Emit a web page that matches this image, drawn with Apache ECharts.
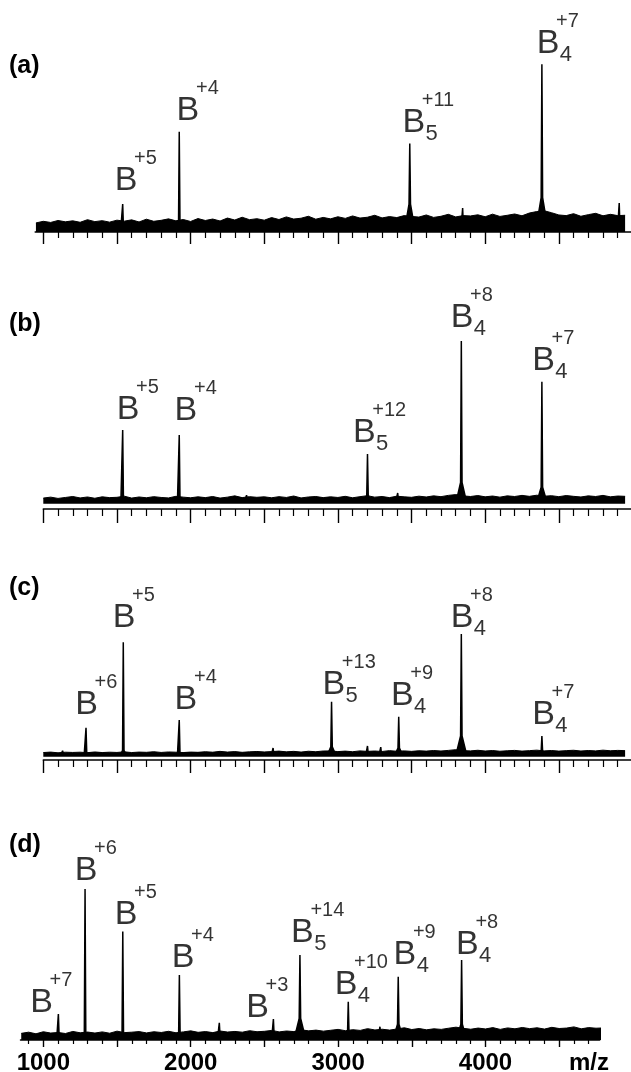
<!DOCTYPE html>
<html><head><meta charset="utf-8">
<script src="https://cdn.jsdelivr.net/npm/echarts@6/dist/echarts.min.js"></script>
<style>html,body{margin:0;padding:0;background:#fff}#c{width:631px;height:1072px}</style>
</head><body><div id="c"></div>
<script>
// ================= DATA =================
const panelNames = ['(a)', '(b)', '(c)', '(d)'];
const tickLabels = [1000, 2000, 3000, 4000];
const axisTitle = 'm/z';

// ---- panel (a) ----
const aPeakMz     = [1539, 1923, 3488, 3847, 4385, 4910];
const aPeakHeight = [14.1, 58.6, 51.4, 11.7, 100, 14.7];
const aPeakFoot   = [0, 2, 14, 0, 18, 0];
const aPeakBase   = [12, 15, 32, 10, 38, 10];
const aIon = ['B', 'B', 'B', '', 'B', ''];
const aSub = ['', '', '5', '', '4', ''];
const aSup = ['+5', '+4', '+11', '', '+7', ''];
const aNoiseStart = 950, aNoiseStep = 50;
const aNoise = [
  2.5, 3.5, 2.8, 4.0, 3.2, 3.8, 2.9, 4.5, 3.3, 3.9, 3.0, 4.2,
  3.6, 4.4, 3.1, 4.8, 3.5, 4.1, 5.0, 3.8, 4.6, 3.4,
  5.2, 4.0, 4.9, 3.7, 5.5, 4.3, 6.0, 4.5, 5.1, 4.2,
  5.8, 4.6, 6.2, 4.9, 5.4, 6.6, 4.8, 5.9, 5.0, 6.3,
  5.3, 6.8, 5.5, 6.0, 7.2, 5.6, 6.4, 5.8, 7.0, 6.5,
  6.1, 7.4, 5.9, 6.6, 7.8, 6.2, 7.0, 6.8, 7.5, 6.3,
  7.9, 6.5, 7.2, 8.0, 6.9, 8.6, 9.5, 10.0, 8.8, 7.4,
  7.0, 8.2, 6.6, 7.6, 8.4, 6.9, 7.8, 7.0, 7.2
];

// ---- panel (b) ----
const bPeakMz     = [1539, 1923, 2380, 3201, 3406, 3838, 4385];
const bPeakHeight = [44.0, 40.9, 3.0, 28.9, 4.4, 100, 74.4];
const bPeakFoot   = [1, 1, 0, 3, 0, 11, 8];
const bPeakBase   = [12, 12, 10, 18, 10, 32, 30];
const bIon = ['B', 'B', '', 'B', '', 'B', 'B'];
const bSub = ['', '', '', '5', '', '4', '4'];
const bSup = ['+5', '+4', '', '+12', '', '+8', '+7'];
const bNoiseStart = 1000, bNoiseStep = 50;
const bNoise = [
  1.2, 1.8, 1.0, 1.6, 2.2, 1.3, 1.9, 1.1, 2.0, 1.5,
  1.7, 2.4, 1.2, 1.9, 1.4, 2.1, 1.6, 1.3, 2.3, 1.8,
  1.4, 2.0, 1.5, 2.2, 1.2, 1.8, 2.6, 1.5, 2.1, 1.7,
  2.0, 1.4, 2.1, 1.6, 2.5, 1.3, 1.9, 2.2, 1.5, 2.0,
  1.6, 2.3, 1.4, 2.1, 2.7, 1.8, 2.2, 1.5, 2.4, 2.0,
  1.7, 2.4, 1.9, 2.6, 2.1, 2.9, 3.4, 2.6, 2.2, 2.8,
  2.0, 2.5, 1.8, 2.6, 2.2, 2.9, 2.3, 3.0, 2.4, 2.7,
  2.1, 2.8, 2.3, 1.9, 2.6, 2.2, 2.9, 2.0, 2.5, 2.3
];

// ---- panel (c) ----
const cPeakMz     = [1131, 1290, 1543, 1923, 2560, 2957, 3201, 3291, 3413, 3838, 4385];
const cPeakHeight = [2.7, 21.9, 93.1, 28.3, 5.0, 43.6, 6.7, 5.8, 31.1, 100, 15.0];
const cPeakFoot   = [0, 1, 3, 1, 0, 6, 0, 0, 5, 15, 2];
const cPeakBase   = [10, 12, 15, 12, 10, 26, 10, 10, 24, 35, 18];
const cIon = ['', 'B', 'B', 'B', '', 'B', '', '', 'B', 'B', 'B'];
const cSub = ['', '', '', '', '', '5', '', '', '4', '4', '4'];
const cSup = ['', '+6', '+5', '+4', '', '+13', '', '', '+9', '+8', '+7'];
const cNoiseStart = 1000, cNoiseStep = 50;
const cNoise = [
  1.2, 1.6, 1.0, 1.5, 1.3, 1.5, 1.1, 1.7, 1.2, 1.5,
  1.3, 1.8, 1.2, 1.6, 1.4, 1.9, 1.3, 1.7, 1.5, 1.2,
  1.6, 1.4, 1.9, 1.5, 2.2, 1.6, 2.0, 1.4, 1.8, 2.1,
  1.7, 2.0, 2.4, 1.8, 2.2, 1.6, 2.3, 1.9, 2.5, 2.6,
  2.0, 2.4, 1.9, 2.6, 2.2, 2.5, 2.1, 2.8, 2.3, 2.6,
  2.2, 2.7, 2.4, 2.9, 2.5, 3.0, 3.6, 2.8, 2.6, 3.1,
  2.5, 2.9, 2.3, 2.7, 3.0, 2.4, 2.8, 3.2, 2.6, 2.9,
  2.4, 2.8, 3.1, 2.5, 2.9, 2.6, 3.2, 2.7, 3.0, 2.8
];

// ---- panel (d) ----
const dPeakMz     = [1102, 1283, 1539, 1923, 2194, 2561, 2741, 3069, 3284, 3408, 3838];
const dPeakHeight = [15.0, 100, 71.0, 41.5, 9.0, 11.6, 55.1, 23.3, 6.3, 40.3, 51.7];
const dPeakFoot   = [0, 2, 3, 2, 0, 0, 12, 2, 0, 8, 8];
const dPeakBase   = [10, 12, 14, 13, 10, 10, 34, 16, 10, 28, 28];
const dIon = ['B', 'B', 'B', 'B', '', 'B', 'B', 'B', '', 'B', 'B'];
const dSub = ['', '', '', '', '', '', '5', '4', '', '4', '4'];
const dSup = ['+7', '+6', '+5', '+4', '', '+3', '+14', '+10', '', '+9', '+8'];
const dNoiseStart = 850, dNoiseStep = 50;
const dNoise = [
  1.8, 2.6, 1.5, 2.9, 2.0, 2.4, 1.7, 3.1, 2.2, 2.7,
  2.0, 2.8, 1.9, 3.3, 2.3, 2.6, 3.0, 2.1, 2.9, 2.4,
  3.2, 2.2, 2.8, 3.5, 2.5, 3.0, 2.3, 3.4, 2.7, 3.1,
  2.6, 3.6, 2.9, 3.2, 3.8, 2.8, 3.4, 3.0, 4.2, 3.5,
  4.0, 3.3, 3.9, 4.5, 3.6, 4.3, 3.8, 5.0, 4.1, 4.6,
  4.0, 4.8, 5.6, 4.4, 5.1, 4.2, 4.9, 4.5, 5.3, 6.0,
  5.2, 4.6, 5.4, 4.8, 5.7, 4.5, 5.5, 4.9, 5.8, 5.0,
  5.6, 4.7, 5.9, 5.1, 5.4, 6.2, 4.9, 5.7, 5.3, 5.5
];

// ================= LAYOUT / STYLE =================
const FONT = "'Liberation Sans', Arial, Helvetica, sans-serif";
// label nudges relative to the peak top: [B centre dx, gap from peak top to B baseline]
const aNudge = [[3.3, 11], [8.7, 8.7], [4, 8.3], [6.2, 8.3]];
const bNudge = [[5.3, 8], [6.7, 12], [-3.2, 9], [0.8, 11], [1.7, 8.7]];
const cNudge = [[0.5, 10.7], [0.7, 12.3], [6.7, 8], [2.3, 4.7], [3.5, 8.7], [0.8, 4], [1.7, 9]];
const dNudge = [[-16.8, -1], [1, 6], [3.3, 4.7], [3.7, 5], [-15.8, -1], [2.5, 10], [-2.3, 4.7], [6.7, 9.7], [5.8, 3]];

const panels = [
  { mz: aPeakMz, h: aPeakHeight, foot: aPeakFoot, base: aPeakBase, ion: aIon, sub: aSub, sup: aSup,
    noise: aNoise, nStart: aNoiseStart, nStep: aNoiseStep, nudge: aNudge,
    grid: { left: 35.2, right: 0, top: 56.2, bottom: 840 }, xMin: 945, xMax: 4990, yMin: -3.07, yMax: 105,
    major: 12, minor: 6, origin: 'start', labels: false, titleTop: 54 },
  { mz: bPeakMz, h: bPeakHeight, foot: bPeakFoot, base: bPeakBase, ion: bIon, sub: bSub, sup: bSup,
    noise: bNoise, nStart: bNoiseStart, nStep: bNoiseStep, nudge: bNudge,
    grid: { left: 43.3, right: 0, top: 333.05, bottom: 563 }, xMin: 1000, xMax: 4990, yMin: -5.66, yMax: 105,
    major: 14, minor: 7, origin: -2.3, labels: false, titleTop: 312 },
  { mz: cPeakMz, h: cPeakHeight, foot: cPeakFoot, base: cPeakBase, ion: cIon, sub: cSub, sup: cSup,
    noise: cNoise, nStart: cNoiseStart, nStep: cNoiseStep, nudge: cNudge,
    grid: { left: 43.3, right: 0, top: 628, bottom: 312 }, xMin: 1000, xMax: 4990, yMin: -5, yMax: 105,
    major: 13, minor: 7, origin: -2.2, labels: false, titleTop: 576 },
  { mz: dPeakMz, h: dPeakHeight, foot: dPeakFoot, base: dPeakBase, ion: dIon, sub: dSub, sup: dSup,
    noise: dNoise, nStart: dNoiseStart, nStep: dNoiseStep, nudge: dNudge,
    grid: { left: 20.5, right: 31.3, top: 881.65, bottom: 32 }, xMin: 845, xMax: 4775, yMin: -2.72, yMax: 105,
    major: 7, minor: 4, origin: 'start', labels: true, titleTop: 833 }
];

// ================= BUILD OPTION =================
const grids = [], xAxes = [], yAxes = [], series = [], titles = [];

panels.forEach((p, gi) => {
  grids.push(Object.assign({ outerBoundsMode: 'none', containLabel: false }, p.grid));
  const majors = [], minors = [];
  for (let v = Math.ceil(p.xMin / 100) * 100; v <= p.xMax; v += 100) {
    (v % 500 === 0 ? majors : minors).push(v);
  }
  const majorIdx = xAxes.length;
  xAxes.push({
    type: 'value', gridIndex: gi, min: p.xMin, max: p.xMax, position: 'bottom',
    axisLine: { show: true, onZero: false, lineStyle: { color: '#000', width: 1.5 } },
    axisTick: { show: true, inside: false, length: p.major, customValues: majors, lineStyle: { color: '#000', width: 1.4 } },
    axisLabel: p.labels ? {
      show: true, customValues: tickLabels, margin: 11, formatter: v => String(v),
      color: '#000', fontFamily: FONT, fontWeight: 'bold', fontSize: 24
    } : { show: false },
    splitLine: { show: false }
  });
  xAxes.push({
    type: 'value', gridIndex: gi, min: p.xMin, max: p.xMax, position: 'bottom',
    axisLine: { show: false, onZero: false },
    axisTick: { show: true, inside: false, length: p.minor, customValues: minors, lineStyle: { color: '#000', width: 1.2 } },
    axisLabel: { show: false }, splitLine: { show: false }
  });
  yAxes.push({ type: 'value', gridIndex: gi, min: p.yMin, max: p.yMax, show: false });

  // noise band
  series.push({
    type: 'line', xAxisIndex: majorIdx, yAxisIndex: gi, symbol: 'none', z: 2,
    data: p.noise.map((v, i) => [p.nStart + i * p.nStep, v]),
    lineStyle: { color: '#000', width: 1, join: 'bevel' },
    areaStyle: { color: '#000', opacity: 1, origin: p.origin }
  });

  // peaks
  const pk = [];
  p.mz.forEach((m, i) => {
    const w = p.base[i], f = p.foot[i];
    pk.push([m - w, 0], [m - 5, f], [m, p.h[i]], [m + 5, f], [m + w, 0]);
  });
  series.push({
    type: 'line', xAxisIndex: majorIdx, yAxisIndex: gi, symbol: 'none', z: 3,
    data: pk,
    lineStyle: { color: '#000', width: 1.5, join: 'bevel' },
    areaStyle: { color: '#000', opacity: 1, origin: 'auto' }
  });

  // labels
  const Bd = [], subD = [], supD = [];
  let k = 0;
  p.mz.forEach((m, i) => {
    if (!p.ion[i]) return;
    const [dx, gap] = p.nudge[k++];
    const val = [m, p.h[i]];
    Bd.push({ value: val, label: { formatter: p.ion[i], offset: [dx, -(gap + 12)] } });
    if (p.sub[i]) subD.push({ value: val, label: { formatter: p.sub[i], offset: [dx + 11.7, -(gap + 1.4)] } });
    if (p.sup[i]) supD.push({ value: val, label: { formatter: p.sup[i], offset: [dx + 8, -(gap + 34.5)] } });
  });
  const mk = (data, size, align) => ({
    type: 'scatter', xAxisIndex: majorIdx, yAxisIndex: gi, symbolSize: 1, z: 5, clip: false,
    itemStyle: { color: 'rgba(0,0,0,0)' },
    label: { show: true, position: 'inside', align: align, verticalAlign: 'middle',
      color: '#000', fontFamily: FONT, fontSize: size },
    data: data
  });
  series.push(mk(Bd, 34, 'center'), mk(subD, 22, 'left'), mk(supD, 20, 'left'));

  titles.push({ text: panelNames[gi], left: 9, top: p.titleTop, padding: 0,
    textStyle: { color: '#000', fontFamily: FONT, fontWeight: 'bold', fontSize: 25 } });
});
titles.push({ text: axisTitle, left: 569, top: 1051, padding: 0,
  textStyle: { color: '#000', fontFamily: FONT, fontWeight: 'bold', fontSize: 24 } });

const chart = echarts.init(document.getElementById('c'), null, { renderer: 'canvas' });
chart.setOption({
  animation: false, backgroundColor: '#fff',
  title: titles, grid: grids, xAxis: xAxes, yAxis: yAxes, series: series
});
</script></body></html>
